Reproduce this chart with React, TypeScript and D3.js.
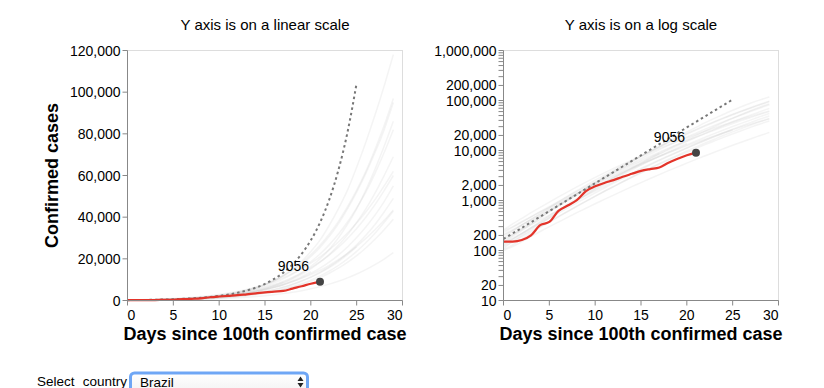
import React from 'react';
import * as d3 from 'd3';

const X_TICKS = [0, 5, 10, 15, 20, 25, 30];
const LINEAR_TICKS = [0, 20000, 40000, 60000, 80000, 100000, 120000];
const LOG_LABELS = [10, 20, 100, 200, 1000, 2000, 10000, 20000, 100000, 200000, 1000000];

const SELECTED_COUNTRY = 'Brazil';
const BRAZIL = [151, 151, 162, 200, 321, 372, 621, 793, 1021, 1546, 1924, 2247, 2554, 2985, 3417, 3904, 4256, 4579, 5717, 6836, 8044, 9056];
const REFERENCE = [170, 220, 284, 367, 475, 614, 794, 1026, 1327, 1715, 2217, 2866, 3705, 4790, 6193, 8006, 10350, 13380, 17298, 22363, 28911, 37376, 48320, 62469, 80760, 104400];

const OTHER_A = [160, 210, 280, 370, 480, 620, 800, 1040, 1350, 1750, 2250, 2900, 3700, 4700, 6000, 7600, 9600, 12000, 15000, 18800, 23500, 29000, 36000, 44000, 53000, 64000, 76000, 89000, 103000, 118000];
const OTHER_B = [130, 170, 220, 290, 380, 500, 650, 850, 1100, 1400, 1800, 2300, 2900, 3600, 4500, 5600, 7000, 8700, 10800, 13300, 16400, 20000, 24500, 30000, 36500, 44000, 53000, 63000, 74000, 86000];
const OTHER_C = [200, 250, 320, 400, 500, 640, 800, 1000, 1250, 1550, 1900, 2350, 2900, 3550, 4300, 5200, 6300, 7600, 9100, 10900, 13000, 15500, 18400, 21800, 25700, 30200, 35300, 41000, 47500, 55000];
const OTHER_D = [110, 150, 200, 260, 340, 450, 600, 780, 1000, 1300, 1700, 2200, 2800, 3500, 4400, 5500, 6800, 8400, 10300, 12500, 15200, 18400, 22000, 26500, 31500, 37500, 44000, 51500, 60000, 69000];
const OTHER_E = [250, 300, 380, 470, 590, 730, 900, 1120, 1380, 1700, 2080, 2550, 3100, 3750, 4500, 5400, 6400, 7600, 9000, 10600, 12400, 14500, 16900, 19600, 22600, 26000, 29800, 34000, 38500, 43500];
const OTHER_F = [140, 190, 250, 330, 440, 590, 780, 1020, 1330, 1720, 2200, 2800, 3550, 4450, 5550, 6900, 8500, 10400, 12700, 15400, 18600, 22300, 26700, 31800, 37700, 44500, 52000, 61000, 71000, 82000];
const OTHER_G = [120, 150, 190, 240, 300, 380, 480, 610, 770, 970, 1220, 1530, 1900, 2350, 2900, 3550, 4350, 5300, 6400, 7700, 9200, 11000, 13100, 15500, 18300, 21500, 25200, 29400, 34000, 39000];
const OTHER_H = [180, 240, 320, 420, 550, 720, 940, 1220, 1570, 2000, 2550, 3200, 4000, 5000, 6200, 7700, 9500, 11700, 14300, 17400, 21100, 25500, 30700, 36800, 44000, 52000, 61000, 71000, 82000, 95000];
const OTHER_I = [105, 130, 170, 220, 290, 370, 470, 600, 760, 960, 1210, 1520, 1900, 2370, 2950, 3650, 4500, 5500, 6700, 8100, 9800, 11800, 14100, 16800, 20000, 23600, 27700, 32300, 37500, 43000];
const OTHER_J = [230, 290, 370, 470, 600, 760, 960, 1200, 1500, 1870, 2320, 2870, 3530, 4320, 5270, 6400, 7700, 9300, 11100, 13200, 15700, 18500, 21800, 25500, 29800, 34600, 40000, 46000, 52800, 60000];
const OTHER_K = [150, 200, 270, 350, 460, 600, 790, 1030, 1350, 1760, 2280, 2950, 3800, 4850, 6150, 7750, 9700, 12000, 14800, 18100, 22000, 26500, 31800, 37900, 45000, 53000, 62000, 72500, 84000, 97000];
const OTHER_L = [170, 210, 260, 330, 410, 510, 640, 800, 1000, 1250, 1550, 1920, 2370, 2920, 3580, 4380, 5340, 6480, 7840, 9450, 11350, 13600, 16200, 19200, 22700, 26700, 31300, 36500, 42500, 49000];
const OTHER_M = [125, 165, 215, 280, 365, 470, 610, 790, 1010, 1290, 1640, 2080, 2620, 3290, 4100, 5100, 6300, 7700, 9400, 11400, 13800];
const OTHER_N = [210, 260, 330, 420, 530, 680, 860, 1080, 1360, 1700, 2120, 2640, 3260, 4000, 4900, 6000, 7300, 8800];
const OTHER_O = [140, 175, 220, 280, 350, 440, 560, 710, 900, 1130, 1420, 1780, 2220, 2750, 3400, 4200, 5150, 6300, 7650, 9250, 11100, 13300, 15800, 18700, 22000, 25800];
const OTHER_P = [260, 340, 440, 570, 730, 930, 1180, 1490, 1870, 2330, 2890, 3560, 4360, 5300, 6400, 7700, 9200, 11000, 13000, 15300, 17900, 20900, 24300, 28100, 32400, 37200, 42500, 48400, 55000, 62000];
const OTHER_Q = [100, 120, 150, 190, 240, 300, 370, 460, 570, 700, 860, 1050, 1280, 1560, 1890, 2280, 2750, 3300, 3950, 4700, 5600, 6650, 7850, 9250, 10850, 12700, 14800, 17200, 19900, 23000];

const OTHERS = [OTHER_A, OTHER_B, OTHER_C, OTHER_D, OTHER_E, OTHER_F, OTHER_G, OTHER_H, OTHER_I, OTHER_J, OTHER_K, OTHER_L, OTHER_M, OTHER_N, OTHER_O, OTHER_P, OTHER_Q];

const FONT = '"Liberation Sans", Arial, Helvetica, sans-serif';
const W = 275;
const H = 250;
const TOP = 50.5;

type PanelProps = {
  left: number;
  title: string;
  log: boolean;
  yTitle?: string;
};

function Panel({ left, title, log, yTitle }: PanelProps) {
  const x = d3.scaleLinear().domain([0, 30]).range([0, W]);
  const y: any = log
    ? d3.scaleLog().domain([10, 1000000]).range([H, 0])
    : d3.scaleLinear().domain([0, 120000]).range([H, 0]);
  const yTicks: number[] = log ? y.ticks() : LINEAR_TICKS;
  const fmt = d3.format(',');
  const line = d3
    .line<number>()
    .x((_, i) => x(i))
    .y((d) => y(d))
    .curve(d3.curveMonotoneX);
  const lastIdx = BRAZIL.length - 1;
  const lastVal = BRAZIL[lastIdx];
  return (
    <g transform={`translate(${left},${TOP})`}>
      <text x={W / 2} y={-21} textAnchor="middle" fontSize={15} fill="#000">
        {title}
      </text>
      <rect x={0} y={0} width={W} height={H} fill="none" stroke="#ddd" />
      {OTHERS.map((s, i) => (
        <path key={i} d={line(s) || ''} fill="none" stroke="#b8b8b8" strokeOpacity={0.16} strokeWidth={1.5} />
      ))}
      <path d={line(REFERENCE) || ''} fill="none" stroke="#777" strokeWidth={2} strokeDasharray="2.5,3" />
      <path d={line(BRAZIL) || ''} fill="none" stroke="#e3342a" strokeWidth={2.2} />
      <circle cx={x(lastIdx)} cy={y(lastVal)} r={4} fill="#444" />
      <text x={x(lastIdx) - 11} y={y(lastVal) - 11} textAnchor="end" fontSize={14} fill="#000">
        {lastVal}
      </text>
      <line x1={0} x2={0} y1={0} y2={H} stroke="#888" />
      {yTicks.map((t) => (
        <g key={t} transform={`translate(0,${y(t)})`}>
          <line x1={-5} x2={0} stroke="#888" />
          {(!log || LOG_LABELS.includes(t)) && (
            <text x={-7} y={5} textAnchor="end" fontSize={14} fill="#000">
              {fmt(t)}
            </text>
          )}
        </g>
      ))}
      <line x1={0} x2={W} y1={H} y2={H} stroke="#888" />
      {X_TICKS.map((t, i) => (
        <g key={t} transform={`translate(${x(t)},${H})`}>
          <line y1={0} y2={5} stroke="#888" />
          <text
            y={19.5}
            textAnchor={i === 0 ? 'start' : i === X_TICKS.length - 1 ? 'end' : 'middle'}
            fontSize={14}
            fill="#000"
          >
            {t}
          </text>
        </g>
      ))}
      <text x={W / 2} y={H + 39.5} textAnchor="middle" fontSize={18} fontWeight="bold" fill="#000">
        Days since 100th confirmed case
      </text>
      {yTitle && (
        <text
          transform={`translate(${-70},${H / 2}) rotate(-90)`}
          textAnchor="middle"
          fontSize={18}
          fontWeight="bold"
          fill="#000"
        >
          {yTitle}
        </text>
      )}
    </g>
  );
}

export default function App() {
  return (
    <svg
      width={824}
      height={388}
      style={{ position: 'absolute', left: 0, top: 0, fontFamily: FONT }}
      fontFamily={FONT}
    >
      <rect width={824} height={388} fill="#fff" />
      <Panel left={127.5} title="Y axis is on a linear scale" log={false} yTitle="Confirmed cases" />
      <Panel left={503.5} title="Y axis is on a log scale" log={true} />
      <text x={37} y={386} fontSize={13.5} fill="#000" wordSpacing={4.5}>
        Select country
      </text>
      <defs>
        <linearGradient id="selfill" x1="0" x2="0" y1="0" y2="1">
          <stop offset="0" stopColor="#ffffff" />
          <stop offset="1" stopColor="#f0f0f0" />
        </linearGradient>
      </defs>
      <rect x={130.5} y={373} width={177} height={24} rx={4} fill="url(#selfill)" stroke="#6ea6f5" strokeWidth={3} />
      <text x={140} y={387} fontSize={13.5} fill="#000">
        {SELECTED_COUNTRY}
      </text>
      <path d="M297.5,381 L300.5,376.5 L303.5,381 Z M297.5,383 L300.5,387.5 L303.5,383 Z" fill="#222" />
    </svg>
  );
}
